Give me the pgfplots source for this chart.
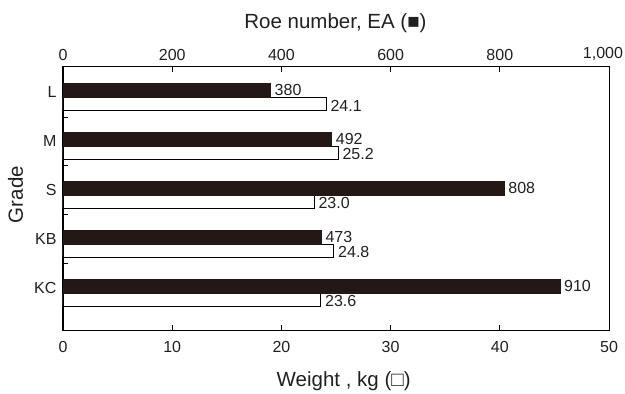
\documentclass[border=0pt]{standalone}
\usepackage{pgfplots}
\pgfplotsset{compat=1.18}
\usepackage{fontspec}
\setmainfont{Liberation Sans}
\definecolor{barblk}{RGB}{35,24,21}
\definecolor{txt}{RGB}{35,31,32}
\begin{document}
\begin{tikzpicture}
\pgfplotsset{
  common/.style={
    scale only axis, width=546pt, height=263pt,
    ymin=-0.52, ymax=4.85, y dir=reverse,
    tick align=inside,
    major tick length=5pt,
    axis line style={line width=1pt, black},
    every tick/.style={black, line width=0.9pt},
    tick label style={font=\fontsize{16}{18}\selectfont, text=txt},
    label style={font=\fontsize{20.5}{23}\selectfont, text=txt},
    /pgf/number format/assume math mode=true,
    /pgf/number format/1000 sep={,},
  }
}
\begin{axis}[common,
  xmin=0, xmax=50, xtick={0,10,...,50}, xtick pos=left, xticklabel pos=left,
  xticklabel style={yshift=-8pt},
  xlabel={Weight , kg (□)},
  xlabel style={at={(axis description cs:0.514,-0.2167)}, anchor=base},
  ylabel={Grade},
  ylabel style={at={(axis description cs:-0.0733,0.515)}, anchor=base},
  ytick={0.5,1.5,2.5,3.5}, yticklabels={}, ytick pos=left,
  extra y ticks={0,1,2,3,4}, extra y tick labels={L,M,S,KB,KC},
  extra y tick style={major tick length=0pt, yticklabel style={xshift=-3pt}},
]
\addplot[xbar, bar width=0.27, bar shift=0pt, draw=black, fill=white, line width=0.8pt,
  point meta=x,
  nodes near coords={\pgfmathprintnumber[fixed,fixed zerofill,precision=1]{\pgfplotspointmeta}},
  nodes near coords align=horizontal,
  every node near coord/.style={anchor=west, inner xsep=2pt, inner ysep=0.5pt, xshift=2pt, yshift=-1.5pt, font=\fontsize{16}{18}\selectfont, text=txt}]
  coordinates {(24.1,0.235) (25.2,1.235) (23.0,2.235) (24.8,3.235) (23.6,4.235)};
\coordinate (ll) at (rel axis cs:0,0);
\coordinate (ur) at (rel axis cs:1,1);
\end{axis}
\begin{axis}[common,
  xmin=0, xmax=1000, xtick={0,200,...,800}, xtick pos=right, xticklabel pos=right,
  xticklabel style={yshift=3pt},
  extra x ticks={1000}, extra x tick style={xticklabel style={xshift=-6pt}},
  xlabel={Roe number, EA (■)},
  xlabel style={at={(axis description cs:0.499,1.148)}, anchor=base},
  ytick=\empty,
]
\addplot[xbar, bar width=0.28, bar shift=0pt, draw=barblk, fill=barblk, line width=0.5pt,
  point meta=x,
  nodes near coords,
  nodes near coords align=horizontal,
  every node near coord/.style={anchor=west, inner xsep=2pt, inner ysep=0.5pt, xshift=2pt, yshift=0.5pt, font=\fontsize{16}{18}\selectfont, text=txt}]
  coordinates {(380,-0.045) (492,0.955) (808,1.955) (473,2.955) (910,3.955)};
\end{axis}
\pgfresetboundingbox
\path ([shift={(-63pt,-63pt)}]ll) rectangle ([shift={(16pt,67pt)}]ur);
\end{tikzpicture}
\end{document}
